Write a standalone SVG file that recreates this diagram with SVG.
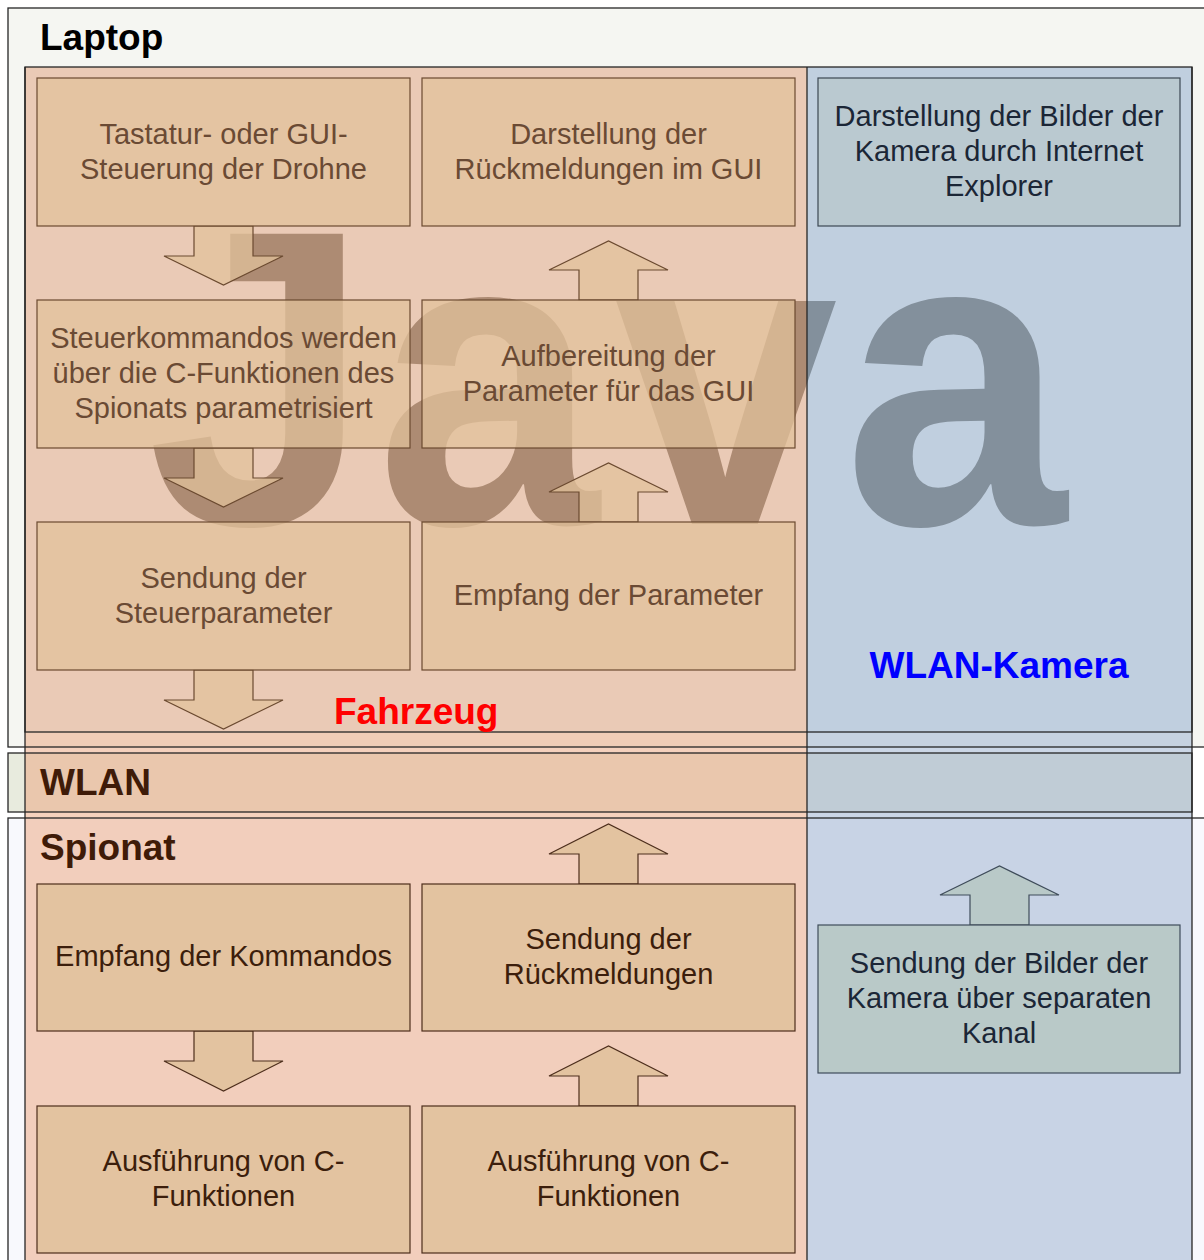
<svg xmlns="http://www.w3.org/2000/svg" width="1204" height="1260" viewBox="0 0 1204 1260">
<defs>
<style>
.sans{font-family:"Liberation Sans",Arial,Helvetica,sans-serif}
.lbl{font-family:"Liberation Sans",Arial,Helvetica,sans-serif;font-weight:bold;font-size:37px}
.t{font-family:"Liberation Sans",Arial,Helvetica,sans-serif;font-size:29px;text-anchor:middle}
.poolLine{fill:none;stroke:#262626;stroke-width:1.3}
.boxTop{fill:#e1c19b;fill-opacity:0.75;stroke:#6b4a30;stroke-width:1.2}
.txtTop{fill:#6a4a34}
.boxBot{fill:#e3c3a0;stroke:#4d2e1c;stroke-width:1.2}
.txtBot{fill:#3c1e0c}
.boxCam1{fill:#bac9d0;stroke:#3d4854;stroke-width:1.2}
.boxCam2{fill:#b9c9c8;stroke:#3f4c5a;stroke-width:1.2}
.txtCam{fill:#1b2636}
</style>
<clipPath id="clipL"><rect x="0" y="0" width="807" height="1260"/></clipPath>
<clipPath id="clipR"><rect x="807" y="0" width="397" height="1260"/></clipPath>
</defs>
<rect x="0" y="0" width="1204" height="1260" fill="#ffffff"/>

<!-- pools -->
<g id="pool-laptop">
<rect x="8" y="8" width="1210" height="739" fill="#f5f6f2"/>
<rect x="25" y="67" width="1167" height="665" fill="#e8f0f0"/>
</g>
<g id="pool-wlan">
<rect x="8" y="753" width="1184" height="59" fill="#e8ebde"/>
</g>
<g id="pool-spionat">
<rect x="8" y="818" width="1210" height="460" fill="#f8f9fd"/>
</g>

<!-- Java watermark -->
<g id="java-watermark" class="sans" font-weight="bold" font-size="422">
<g clip-path="url(#clipL)"><text transform="scale(0.95,1)" x="155 396 647 888" y="524" fill="#696d64">Java</text></g>
<g clip-path="url(#clipR)"><text transform="scale(0.95,1)" x="155 396 647 888" y="524" fill="#696d64">Java</text></g>
</g>

<!-- columns -->
<g id="col-fahrzeug">
<rect x="25" y="67" width="782" height="1210" fill="rgb(236,166,129)" fill-opacity="0.52"/>
</g>
<g id="col-kamera">
<rect x="807" y="67" width="385" height="1210" fill="rgb(156,177,208)" fill-opacity="0.52"/>
</g>

<!-- borders -->
<g id="borders">
<rect class="poolLine" x="8" y="8" width="1210" height="739"/>
<rect class="poolLine" x="25" y="67" width="1167" height="665"/>
<rect class="poolLine" x="8" y="753" width="1184" height="59"/>
<rect class="poolLine" x="8" y="818" width="1210" height="460"/>
<line class="poolLine" x1="25" y1="67" x2="25" y2="1260"/>
<line class="poolLine" x1="807" y1="67" x2="807" y2="1260"/>
<line class="poolLine" x1="1192" y1="67" x2="1192" y2="1260" stroke="#555"/>
</g>

<!-- pool / column labels -->
<g id="labels">
<text class="lbl" x="40" y="50" fill="#000000">Laptop</text>
<text class="lbl" x="40" y="795" fill="#3f1b08">WLAN</text>
<text class="lbl" x="40" y="860" fill="#3f1b08">Spionat</text>
<text class="lbl" x="334" y="724" fill="#ff0000">Fahrzeug</text>
<text class="lbl" x="999" y="678" fill="#0000ff" text-anchor="middle">WLAN-Kamera</text>
</g>

<!-- connectors (block arrows) -->
<g id="connectors">
<path class="boxTop" d="M194,226 V256 H164 L223.5,285 L283,256 H253 V226 Z"/>
<path class="boxTop" d="M194,448 V478 H164 L223.5,507 L283,478 H253 V448 Z"/>
<path class="boxTop" d="M194,670 V700 H164 L223.5,729 L283,700 H253 V670 Z"/>
<path class="boxTop" d="M579,300 V270 H549 L608.5,241 L668,270 H638 V300 Z"/>
<path class="boxTop" d="M579,522 V492 H549 L608.5,463 L668,492 H638 V522 Z"/>
<path class="boxBot" d="M579,884 V854 H549 L608.5,824 L668,854 H638 V884 Z"/>
<path class="boxBot" d="M194,1031 V1061 H164 L223.5,1091 L283,1061 H253 V1031 Z"/>
<path class="boxBot" d="M579,1106 V1076 H549 L608.5,1046 L668,1076 H638 V1106 Z"/>
<path class="boxCam2" d="M970,925 V895 H940 L999.5,866 L1059,895 H1029 V925 Z"/>
</g>

<!-- nodes -->
<g id="n-tastatur">
<rect class="boxTop" x="37" y="78" width="373" height="148"/>
<text class="t txtTop" x="223.5" y="144">Tastatur- oder GUI-</text>
<text class="t txtTop" x="223.5" y="179">Steuerung der Drohne</text>
</g>
<g id="n-darstellung-gui">
<rect class="boxTop" x="422" y="78" width="373" height="148"/>
<text class="t txtTop" x="608.5" y="144">Darstellung der</text>
<text class="t txtTop" x="608.5" y="179">Rückmeldungen im GUI</text>
</g>
<g id="n-darstellung-kamera">
<rect class="boxCam1" x="818" y="78" width="362" height="148"/>
<text class="t txtCam" x="999" y="126">Darstellung der Bilder der</text>
<text class="t txtCam" x="999" y="161">Kamera durch Internet</text>
<text class="t txtCam" x="999" y="196">Explorer</text>
</g>
<g id="n-steuerkommandos">
<rect class="boxTop" x="37" y="300" width="373" height="148"/>
<text class="t txtTop" x="223.5" y="348">Steuerkommandos werden</text>
<text class="t txtTop" x="223.5" y="383">über die C-Funktionen des</text>
<text class="t txtTop" x="223.5" y="418">Spionats parametrisiert</text>
</g>
<g id="n-aufbereitung">
<rect class="boxTop" x="422" y="300" width="373" height="148"/>
<text class="t txtTop" x="608.5" y="366">Aufbereitung der</text>
<text class="t txtTop" x="608.5" y="401">Parameter für das GUI</text>
</g>
<g id="n-sendung-steuer">
<rect class="boxTop" x="37" y="522" width="373" height="148"/>
<text class="t txtTop" x="223.5" y="588">Sendung der</text>
<text class="t txtTop" x="223.5" y="623">Steuerparameter</text>
</g>
<g id="n-empfang-param">
<rect class="boxTop" x="422" y="522" width="373" height="148"/>
<text class="t txtTop" x="608.5" y="605">Empfang der Parameter</text>
</g>
<g id="n-empfang-kommandos">
<rect class="boxBot" x="37" y="884" width="373" height="147"/>
<text class="t txtBot" x="223.5" y="966">Empfang der Kommandos</text>
</g>
<g id="n-sendung-rueck">
<rect class="boxBot" x="422" y="884" width="373" height="147"/>
<text class="t txtBot" x="608.5" y="949">Sendung der</text>
<text class="t txtBot" x="608.5" y="984">Rückmeldungen</text>
</g>
<g id="n-sendung-bilder">
<rect class="boxCam2" x="818" y="925" width="362" height="148"/>
<text class="t txtCam" x="999" y="973">Sendung der Bilder der</text>
<text class="t txtCam" x="999" y="1008">Kamera über separaten</text>
<text class="t txtCam" x="999" y="1043">Kanal</text>
</g>
<g id="n-ausfuehrung-1">
<rect class="boxBot" x="37" y="1106" width="373" height="147"/>
<text class="t txtBot" x="223.5" y="1171">Ausführung von C-</text>
<text class="t txtBot" x="223.5" y="1206">Funktionen</text>
</g>
<g id="n-ausfuehrung-2">
<rect class="boxBot" x="422" y="1106" width="373" height="147"/>
<text class="t txtBot" x="608.5" y="1171">Ausführung von C-</text>
<text class="t txtBot" x="608.5" y="1206">Funktionen</text>
</g>
</svg>
